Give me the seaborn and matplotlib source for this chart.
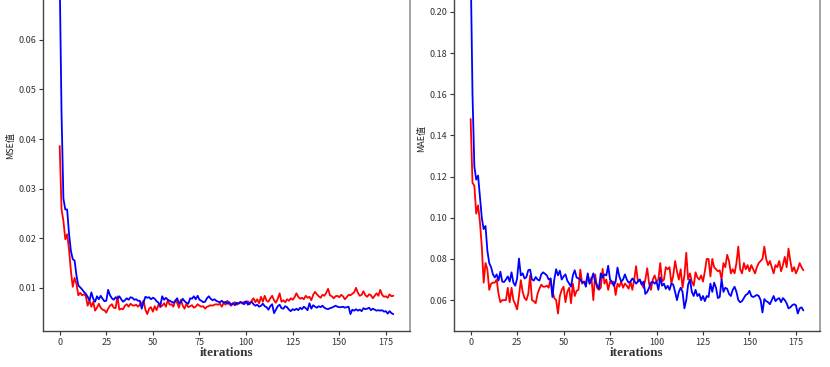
import numpy as np
import pandas as pd
import matplotlib
matplotlib.use("Agg")
import matplotlib.pyplot as plt
import seaborn as sns

mse_blue = [0.0727, 0.045, 0.028, 0.0258, 0.0258, 0.021, 0.0175, 0.0158, 0.0155, 0.0125,
            0.0105, 0.0101, 0.0097, 0.0092, 0.0088, 0.0082, 0.0074, 0.0091, 0.0078, 0.0072,
            0.0083, 0.0077, 0.0084, 0.0078, 0.0073, 0.0074, 0.0096, 0.0085, 0.0079, 0.0076,
            0.0081, 0.0078, 0.0083, 0.0077, 0.0072, 0.0075, 0.0079, 0.0076, 0.0081, 0.0080,
            0.0076, 0.0077, 0.0074, 0.0074, 0.0058, 0.0071, 0.0082, 0.0080, 0.0081, 0.0077,
            0.0080, 0.0078, 0.0073, 0.0070, 0.0064, 0.0083, 0.0076, 0.0080, 0.0076, 0.0074,
            0.0072, 0.0070, 0.0073, 0.0079, 0.0069, 0.0071, 0.0078, 0.0073, 0.0070, 0.0068,
            0.0079, 0.0078, 0.0083, 0.0077, 0.0084, 0.0076, 0.0074, 0.0071, 0.0072, 0.0079,
            0.0083, 0.0078, 0.0075, 0.0077, 0.0074, 0.0072, 0.0071, 0.0074, 0.0070, 0.0072,
            0.0068, 0.0071, 0.0066, 0.0069, 0.0065, 0.0070, 0.0068, 0.0071, 0.0070, 0.0067,
            0.0073, 0.0066, 0.0070, 0.0072, 0.0067, 0.0064, 0.0066, 0.0062, 0.0064, 0.0068,
            0.0063, 0.0061, 0.0056, 0.0063, 0.0067, 0.0049, 0.0056, 0.0063, 0.0066, 0.0059,
            0.0058, 0.0063, 0.0061, 0.0056, 0.0053, 0.0057, 0.0055, 0.0058, 0.0055, 0.0060,
            0.0057, 0.0062, 0.0059, 0.0055, 0.0069, 0.0058, 0.0065, 0.0062, 0.0060, 0.0063,
            0.0061, 0.0064, 0.0060, 0.0058, 0.0057, 0.0059, 0.0060, 0.0062, 0.0064, 0.0062,
            0.0061, 0.0061, 0.0062, 0.0060, 0.0061, 0.0062, 0.0047, 0.0056, 0.0054, 0.0057,
            0.0054, 0.0056, 0.0053, 0.0059, 0.0057, 0.0058, 0.0060, 0.0055, 0.0058, 0.0056,
            0.0054, 0.0055, 0.0054, 0.0055, 0.0052, 0.0053, 0.0048, 0.0053, 0.0049, 0.0047]

mse_red = [0.0386, 0.0258, 0.0235, 0.0198, 0.0208, 0.0178, 0.0135, 0.0102, 0.0120, 0.0108,
           0.0085, 0.0090, 0.0085, 0.0087, 0.0084, 0.0064, 0.0074, 0.0062, 0.0072, 0.0054,
           0.0060, 0.0068, 0.0060, 0.0056, 0.0055, 0.0050, 0.0058, 0.0064, 0.0067, 0.0060,
           0.0059, 0.0083, 0.0056, 0.0058, 0.0057, 0.0064, 0.0067, 0.0062, 0.0068, 0.0065,
           0.0064, 0.0066, 0.0062, 0.0066, 0.0069, 0.0074, 0.0056, 0.0047, 0.0058, 0.0061,
           0.0052, 0.0063, 0.0055, 0.0066, 0.0061, 0.0064, 0.0069, 0.0062, 0.0075, 0.0066,
           0.0067, 0.0062, 0.0075, 0.0070, 0.0060, 0.0076, 0.0064, 0.0058, 0.0068, 0.0061,
           0.0063, 0.0065, 0.0060, 0.0062, 0.0067, 0.0064, 0.0062, 0.0063, 0.0058, 0.0062,
           0.0063, 0.0065, 0.0064, 0.0066, 0.0067, 0.0066, 0.0068, 0.0062, 0.0070, 0.0066,
           0.0074, 0.0067, 0.0064, 0.0068, 0.0071, 0.0066, 0.0069, 0.0072, 0.0068, 0.0072,
           0.0070, 0.0073, 0.0067, 0.0074, 0.0079, 0.0071, 0.0077, 0.0069, 0.0082, 0.0072,
           0.0084, 0.0074, 0.0072, 0.0079, 0.0084, 0.0075, 0.0070, 0.0078, 0.0089, 0.0072,
           0.0075, 0.0071, 0.0077, 0.0074, 0.0079, 0.0076, 0.0081, 0.0089, 0.0082, 0.0078,
           0.0080, 0.0077, 0.0084, 0.0080, 0.0082, 0.0075, 0.0086, 0.0092, 0.0087, 0.0083,
           0.0080, 0.0086, 0.0084, 0.0090, 0.0098, 0.0085, 0.0083, 0.0079, 0.0083, 0.0084,
           0.0081, 0.0086, 0.0083, 0.0077, 0.0081, 0.0086, 0.0085, 0.0088, 0.0091, 0.0100,
           0.0090, 0.0084, 0.0086, 0.0093, 0.0085, 0.0082, 0.0087, 0.0085, 0.0079, 0.0084,
           0.0089, 0.0084, 0.0096, 0.0086, 0.0082, 0.0083, 0.0080, 0.0087, 0.0083, 0.0084]

mae_blue = [0.2235, 0.160, 0.125, 0.1185, 0.1205, 0.110, 0.100, 0.0945, 0.0960, 0.084,
            0.078, 0.076, 0.0725, 0.071, 0.0725, 0.0695, 0.0738, 0.0690, 0.0688, 0.0700,
            0.0715, 0.0690, 0.0735, 0.0685, 0.0670, 0.0705, 0.0802, 0.0720, 0.0730, 0.0705,
            0.0712, 0.0745, 0.0748, 0.0700, 0.0695, 0.0712, 0.0700, 0.0695, 0.0725, 0.0735,
            0.0728, 0.0720, 0.0700, 0.0705, 0.0615, 0.0700, 0.0750, 0.0720, 0.0743, 0.0700,
            0.0715, 0.0725, 0.0695, 0.0680, 0.0665, 0.0720, 0.0745, 0.0710, 0.0705, 0.0700,
            0.0685, 0.0690, 0.0665, 0.0730, 0.0680, 0.0700, 0.0730, 0.0690, 0.0672, 0.0655,
            0.0730, 0.0710, 0.0725, 0.0720, 0.0767, 0.0700, 0.0690, 0.0670, 0.0690, 0.0758,
            0.0715, 0.0690, 0.0700, 0.0725, 0.0700, 0.0685, 0.0690, 0.0705, 0.0695, 0.0680,
            0.0690, 0.0700, 0.0675, 0.0690, 0.0630, 0.0640, 0.0660, 0.0685, 0.0690, 0.0680,
            0.0690, 0.0650, 0.0710, 0.0670, 0.0680, 0.0655, 0.0670, 0.0650, 0.0680, 0.0675,
            0.0640, 0.0600, 0.0640, 0.0660, 0.0640, 0.0560, 0.0600, 0.0675, 0.0700, 0.0640,
            0.0620, 0.0650, 0.0620, 0.0630, 0.0600, 0.0620, 0.0595, 0.0620, 0.0615, 0.0680,
            0.0640, 0.0685, 0.0660, 0.0610, 0.0615, 0.0700, 0.0640, 0.0660, 0.0655, 0.0630,
            0.0620, 0.0650, 0.0665, 0.0640, 0.0600, 0.0590, 0.0595, 0.0610, 0.0625, 0.0630,
            0.0645, 0.0620, 0.0615, 0.0620, 0.0625, 0.0620, 0.0600, 0.0540, 0.0605, 0.0595,
            0.0590, 0.0580, 0.0600, 0.0620, 0.0595, 0.0605, 0.0610, 0.0590, 0.0610, 0.0600,
            0.0585, 0.0560, 0.0565, 0.0575, 0.0580, 0.0575, 0.0535, 0.0560, 0.0565, 0.0550]

mae_red = [0.148, 0.117, 0.1155, 0.102, 0.106, 0.098, 0.086, 0.0685, 0.078, 0.075,
           0.065, 0.068, 0.0685, 0.0685, 0.0700, 0.0630, 0.0590, 0.0600, 0.0600, 0.0600,
           0.0660, 0.0590, 0.0660, 0.0600, 0.0580, 0.0555, 0.0620, 0.0697, 0.0640, 0.0610,
           0.0600, 0.0630, 0.0720, 0.0600, 0.0595, 0.0585, 0.0630, 0.0655, 0.0675, 0.0665,
           0.0665, 0.0670, 0.0660, 0.0705, 0.0645, 0.0610, 0.0600, 0.0535, 0.0620, 0.0650,
           0.0665, 0.0590, 0.0640, 0.0660, 0.0585, 0.0680, 0.0620, 0.0645, 0.0650, 0.0748,
           0.0680, 0.0690, 0.0685, 0.0720, 0.0680, 0.0710, 0.0600, 0.0725, 0.0660, 0.0650,
           0.0660, 0.0752, 0.0680, 0.0700, 0.0650, 0.0690, 0.0680, 0.0690, 0.0625, 0.0680,
           0.0665, 0.0690, 0.0660, 0.0680, 0.0670, 0.0655, 0.0690, 0.0650, 0.0700, 0.0765,
           0.0690, 0.0700, 0.0680, 0.0660, 0.0700, 0.0755, 0.0680, 0.0650, 0.0700, 0.0720,
           0.0690, 0.0700, 0.0780, 0.0690, 0.0700, 0.0760, 0.0750, 0.0760, 0.0680, 0.0720,
           0.0790, 0.0740, 0.0700, 0.0750, 0.0660, 0.0720, 0.0830, 0.0700, 0.0730, 0.0690,
           0.0670, 0.0735, 0.0710, 0.0700, 0.0720, 0.0690, 0.0740, 0.0800, 0.0800, 0.0715,
           0.0800, 0.0760, 0.0750, 0.0740, 0.0745, 0.0700, 0.0780, 0.0760, 0.0820, 0.0790,
           0.0730, 0.0750, 0.0730, 0.0780, 0.0860, 0.0750, 0.0730, 0.0780, 0.0750, 0.0770,
           0.0740, 0.0770, 0.0750, 0.0730, 0.0760, 0.0780, 0.0790, 0.0800, 0.0860, 0.0800,
           0.0770, 0.0790, 0.0760, 0.0730, 0.0770, 0.0760, 0.0790, 0.0740, 0.0770, 0.0810,
           0.0760, 0.0850, 0.0790, 0.0740, 0.0760, 0.0730, 0.0750, 0.0780, 0.0760, 0.0745]

xlabel = "iterations"
ylabels = ["MSE值", "MAE值"]
xticks = [0, 25, 50, 75, 100, 125, 150, 175]
mse_yticks = [0.01, 0.02, 0.03, 0.04, 0.05, 0.06]
mae_yticks = [0.06, 0.08, 0.10, 0.12, 0.14, 0.16, 0.18, 0.20]

sns.set_theme(style="ticks")
plt.rcParams['font.family'] = ['Noto Sans CJK SC', 'DejaVu Sans']

iters = np.arange(len(mse_blue))
df_mse = pd.DataFrame({"iter": iters, "blue": mse_blue, "red": mse_red})
df_mae = pd.DataFrame({"iter": iters, "blue": mae_blue, "red": mae_red})

fig = plt.figure(figsize=(8.30, 3.67), dpi=100)
ax1 = fig.add_axes([43/830, 36/367, 367/830, 371/367])
ax2 = fig.add_axes([454/830, 36/367, 366/830, 385/367])

for ax, df, yl, yt in [(ax1, df_mse, ylabels[0], mse_yticks),
                       (ax2, df_mae, ylabels[1], mae_yticks)]:
    sns.lineplot(data=df, x="iter", y="red", color="red", linewidth=1.3, ax=ax)
    sns.lineplot(data=df, x="iter", y="blue", color="blue", linewidth=1.3, ax=ax)
    ax.set_xticks(xticks)
    ax.set_yticks(yt)
    ax.set_yticklabels([f"{v:.2f}" for v in yt])
    ax.tick_params(axis='both', labelsize=6.5, length=3, width=0.8,
                   colors='#333333', pad=2)
    for lab in ax.get_xticklabels() + ax.get_yticklabels():
        lab.set_color('#333333')
    ax.set_xlabel(xlabel, fontfamily='Liberation Serif', fontweight='bold',
                  fontsize=9.5, color='#333333', labelpad=0)
    ax.set_ylabel(yl, fontsize=6.5, color='#222222', labelpad=2)
    for s in ['left', 'bottom']:
        ax.spines[s].set_color('#444444')
        ax.spines[s].set_linewidth(1.0)
    ax.spines['right'].set_color('#999999')
    ax.spines['top'].set_color('#999999')

fig.savefig("out.png", dpi=100)
